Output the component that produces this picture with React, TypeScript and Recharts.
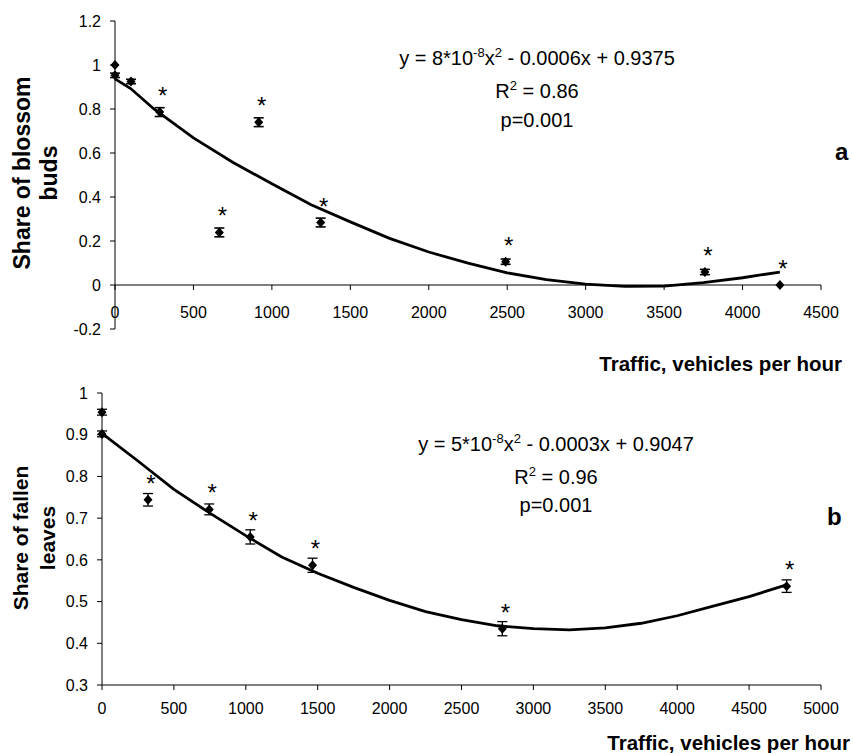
import React from "react";
import {
  ErrorBar,
  ReferenceLine,
  Scatter,
  ScatterChart,
  XAxis,
  YAxis,
} from "recharts";

// panel a: blossom buds
const trafficA = [0, 0, 102, 285, 665, 916, 1311, 2490, 3760, 4238];
const budsShare = [1.0, 0.953, 0.925, 0.786, 0.239, 0.74, 0.284, 0.106, 0.059, 0];
const budsErr = [0, 0.01, 0.01, 0.02, 0.02, 0.02, 0.02, 0.012, 0.012, 0];
const budsStar = [false, false, false, true, true, true, true, true, true, true];

const fitAx = [0, 100, 250, 500, 750, 1000, 1250, 1500, 1750, 2000, 2250, 2500, 2750, 3000, 3250, 3500, 3750, 4000, 4238];
const fitAy = [0.937, 0.893, 0.799, 0.669, 0.558, 0.46, 0.365, 0.287, 0.212, 0.15, 0.099, 0.055, 0.024, 0.004, -0.006, -0.005, 0.011, 0.033, 0.059];

const xTicksA = [0, 500, 1000, 1500, 2000, 2500, 3000, 3500, 4000, 4500];
const yTicksA = [-0.2, 0, 0.2, 0.4, 0.6, 0.8, 1, 1.2];

// panel b: fallen leaves
const trafficB = [0, 0, 320, 746, 1031, 1464, 2784, 4761];
const leavesShare = [0.954, 0.902, 0.744, 0.721, 0.655, 0.587, 0.435, 0.537];
const leavesErr = [0.007, 0.007, 0.015, 0.013, 0.017, 0.017, 0.017, 0.015];
const leavesStar = [false, false, true, true, true, true, true, true];

const fitBx = [0, 250, 500, 750, 1000, 1250, 1500, 1750, 2000, 2250, 2500, 2750, 3000, 3250, 3500, 3750, 4000, 4250, 4500, 4760];
const fitBy = [0.903, 0.837, 0.769, 0.712, 0.658, 0.607, 0.568, 0.534, 0.503, 0.476, 0.457, 0.442, 0.435, 0.432, 0.437, 0.448, 0.466, 0.489, 0.512, 0.54];

const xTicksB = [0, 500, 1000, 1500, 2000, 2500, 3000, 3500, 4000, 4500, 5000];
const yTicksB = [0.3, 0.4, 0.5, 0.6, 0.7, 0.8, 0.9, 1];

const pointsA = trafficA.map((x, i) => ({ x, y: budsShare[i], err: budsErr[i], star: budsStar[i] }));
const pointsB = trafficB.map((x, i) => ({ x, y: leavesShare[i], err: leavesErr[i], star: leavesStar[i] }));
const curveA = fitAx.map((x, i) => ({ x, y: fitAy[i] }));
const curveB = fitBx.map((x, i) => ({ x, y: fitBy[i] }));
const axisTicksA = xTicksA.map((x) => ({ x, y: 0 }));

const FONT = "'Liberation Sans', Arial, Helvetica, sans-serif";
const INK = "#000";
const tickStyle = { fill: INK, fontSize: 16 };

function Diamond(props: any) {
  const { cx, cy, payload } = props;
  if (cx == null || cy == null) return <g />;
  return (
    <g>
      <path
        d={`M${cx},${cy - 5}L${cx + 4.5},${cy}L${cx},${cy + 5}L${cx - 4.5},${cy}Z`}
        fill={INK}
      />
      {payload.star && (
        <text x={cx + 3} y={cy - 8} textAnchor="middle" fontSize={24} fill={INK}>
          *
        </text>
      )}
    </g>
  );
}

// x axis of panel a sits on y = 0, so its ticks are drawn as points on that line
function ZeroTick(props: any) {
  const { cx, cy, payload } = props;
  if (cx == null || cy == null) return <g />;
  return (
    <g>
      <line x1={cx} x2={cx} y1={cy} y2={cy + 5} stroke={INK} strokeWidth={1} />
      <text x={cx} y={cy + 33} textAnchor="middle" fontSize={16} fill={INK}>
        {payload.x}
      </text>
    </g>
  );
}

const noShape = () => <g />;

function Equation({ x, y, coef }: { x: number; y: number; coef: [string, string, string] }) {
  return (
    <text x={x} y={y} textAnchor="middle" fontSize={20} fill={INK}>
      {`y = ${coef[0]}*10`}
      <tspan dy={-8} fontSize={13}>-8</tspan>
      <tspan dy={8}>x</tspan>
      <tspan dy={-8} fontSize={13}>2</tspan>
      <tspan dy={8}>{` - ${coef[1]}x + ${coef[2]}`}</tspan>
    </text>
  );
}

function RSquared({ x, y, value }: { x: number; y: number; value: string }) {
  return (
    <text x={x} y={y} textAnchor="middle" fontSize={20} fill={INK}>
      R
      <tspan dy={-8} fontSize={13}>2</tspan>
      <tspan dy={8}>{` = ${value}`}</tspan>
    </text>
  );
}

export default function App() {
  return (
    <div
      style={{
        position: "absolute",
        left: 0,
        top: 0,
        width: 853,
        height: 753,
        background: "#fff",
        fontFamily: FONT,
      }}
    >
      <div style={{ position: "absolute", left: 0, top: 0 }}>
        <ScatterChart width={853} height={340} margin={{ top: 21, right: 32, bottom: 11, left: 55 }}>
          <XAxis type="number" dataKey="x" domain={[0, 4500]} hide />
          <YAxis
            type="number"
            dataKey="y"
            domain={[-0.2, 1.2]}
            ticks={yTicksA}
            width={60}
            tickSize={5}
            tickMargin={9}
            tick={tickStyle}
            axisLine={{ stroke: INK }}
            tickLine={{ stroke: INK }}
            allowDataOverflow
          />
          <ReferenceLine y={0} stroke={INK} strokeWidth={1} ifOverflow="extendDomain" />
          <Scatter data={axisTicksA} shape={ZeroTick} isAnimationActive={false} />
          <Scatter
            data={curveA}
            line={{ stroke: INK, strokeWidth: 2.8 }}
            shape={noShape}
            isAnimationActive={false}
          />
          <Scatter data={pointsA} shape={Diamond} isAnimationActive={false}>
            <ErrorBar dataKey="err" direction="y" width={5} stroke={INK} strokeWidth={1.6} isAnimationActive={false} />
          </Scatter>
        </ScatterChart>
      </div>

      <div style={{ position: "absolute", left: 0, top: 340 }}>
        <ScatterChart width={853} height={413} margin={{ top: 53, right: 32, bottom: 38, left: 42 }}>
          <XAxis
            type="number"
            dataKey="x"
            domain={[0, 5000]}
            ticks={xTicksB}
            height={30}
            tickSize={5}
            tickMargin={13}
            tick={tickStyle}
            axisLine={{ stroke: INK }}
            tickLine={{ stroke: INK }}
          />
          <YAxis
            type="number"
            dataKey="y"
            domain={[0.3, 1]}
            ticks={yTicksB}
            width={60}
            tickSize={5}
            tickMargin={9}
            tick={tickStyle}
            axisLine={{ stroke: INK }}
            tickLine={{ stroke: INK }}
            allowDataOverflow
          />
          <Scatter
            data={curveB}
            line={{ stroke: INK, strokeWidth: 2.8 }}
            shape={noShape}
            isAnimationActive={false}
          />
          <Scatter data={pointsB} shape={Diamond} isAnimationActive={false}>
            <ErrorBar dataKey="err" direction="y" width={5} stroke={INK} strokeWidth={1.3} isAnimationActive={false} />
          </Scatter>
        </ScatterChart>
      </div>

      <svg
        width={853}
        height={753}
        style={{ position: "absolute", left: 0, top: 0, pointerEvents: "none" }}
      >
        {/* panel a */}
        <text transform="rotate(-90 30 173)" x={30} y={173} textAnchor="middle" fontSize={23} fontWeight="bold" fill={INK}>
          Share of blossom
        </text>
        <text transform="rotate(-90 57 173)" x={57} y={173} textAnchor="middle" fontSize={23} fontWeight="bold" fill={INK}>
          buds
        </text>
        <Equation x={537} y={65} coef={["8", "0.0006", "0.9375"]} />
        <RSquared x={537} y={98} value="0.86" />
        <text x={537} y={127} textAnchor="middle" fontSize={20} fill={INK}>p=0.001</text>
        <text x={835} y={160} fontSize={24} fontWeight="bold" fill={INK}>a</text>
        <text x={842} y={371} textAnchor="end" fontSize={20.5} fontWeight="bold" fill={INK}>
          Traffic, vehicles per hour
        </text>

        {/* panel b */}
        <text transform="rotate(-90 28 538)" x={28} y={538} textAnchor="middle" fontSize={21} fontWeight="bold" fill={INK}>
          Share of fallen
        </text>
        <text transform="rotate(-90 55 538)" x={55} y={538} textAnchor="middle" fontSize={21} fontWeight="bold" fill={INK}>
          leaves
        </text>
        <Equation x={556} y={451} coef={["5", "0.0003", "0.9047"]} />
        <RSquared x={556} y={484} value="0.96" />
        <text x={556} y={512} textAnchor="middle" fontSize={20} fill={INK}>p=0.001</text>
        <text x={827} y={525} fontSize={24} fontWeight="bold" fill={INK}>b</text>
        <text x={850} y={750} textAnchor="end" fontSize={20.5} fontWeight="bold" fill={INK}>
          Traffic, vehicles per hour
        </text>
      </svg>
    </div>
  );
}
